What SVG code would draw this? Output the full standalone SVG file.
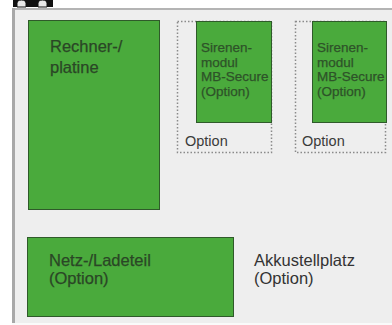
<svg xmlns="http://www.w3.org/2000/svg" width="392" height="325" viewBox="0 0 392 325">
<style>
.box{fill:#4aaa3c;stroke:#2f5a2a;stroke-width:1}
.dot{fill:none;stroke:#8a8a8a;stroke-width:1.5;stroke-dasharray:1.5 2}
.t{font-family:"Liberation Sans",Arial,sans-serif;fill:#2a4626;stroke:#2a4626;stroke-width:0.25}
.big{font-size:16.5px}
.sm{font-size:13.5px;fill:#2e5229;stroke:#2e5229}
.opt{font-family:"Liberation Sans",Arial,sans-serif;font-size:14.5px;fill:#3a3a3a}
.dark{font-family:"Liberation Sans",Arial,sans-serif;font-size:16.5px;fill:#333333}
</style>
<defs>
<clipPath id="c1"><rect x="196" y="21" width="76" height="102"/></clipPath>
<clipPath id="c2"><rect x="312" y="21" width="75" height="102"/></clipPath>
</defs>
<rect width="392" height="325" fill="#ffffff"/>
<g id="topmark">
<rect x="13" y="0" width="40" height="7" fill="#111111"/>
<path d="M17,7 V3.5 a4.5,3.5 0 0 1 9,0 V7 Z" fill="#e8e8e8" stroke="#111" stroke-width="1"/>
<path d="M38,7 V3.5 a4.5,3.5 0 0 1 9,0 V7 Z" fill="#e8e8e8" stroke="#111" stroke-width="1"/>
</g>
<g id="panel">
<rect x="12" y="8" width="382" height="316" fill="#eeeeee"/>
<rect x="12" y="8" width="382" height="2" fill="#b4b4b4"/>
<rect x="12" y="8" width="3" height="316" fill="#a8a8a8"/>
<rect x="12" y="323" width="382" height="2" fill="#fafafa"/>
</g>
<g id="connectors"></g>
<g id="rechner">
<rect class="box" x="28.5" y="20.5" width="131" height="189"/>
<text class="t big" x="50" y="52">Rechner-/</text>
<text class="t big" x="50" y="73">platine</text>
</g>
<g id="option1">
<rect class="dot" x="177.5" y="21.5" width="94" height="131"/>
<text class="opt" x="185" y="146">Option</text>
</g>
<g id="sirene1">
<rect class="box" x="196.5" y="21.5" width="75" height="101"/>
<g clip-path="url(#c1)">
<text class="t sm" x="201" y="52">Sirenen-</text>
<text class="t sm" x="201" y="66.5">modul</text>
<text class="t sm" x="201" y="81">MB-Secure</text>
<text class="t sm" x="201" y="95.5">(Option)</text>
</g>
</g>
<g id="option2">
<rect class="dot" x="295.5" y="21.5" width="90" height="131"/>
<text class="opt" x="302" y="146">Option</text>
</g>
<g id="sirene2">
<rect class="box" x="312.5" y="21.5" width="74" height="101"/>
<g clip-path="url(#c2)">
<text class="t sm" x="317" y="52">Sirenen-</text>
<text class="t sm" x="317" y="66.5">modul</text>
<text class="t sm" x="317" y="81">MB-Secure</text>
<text class="t sm" x="317" y="95.5">(Option)</text>
</g>
</g>
<g id="netz">
<rect class="box" x="27.5" y="237.5" width="206" height="79"/>
<text class="t big" x="49" y="266">Netz-/Ladeteil</text>
<text class="t big" x="49" y="284">(Option)</text>
</g>
<g id="akku">
<text class="dark" x="254" y="266">Akkustellplatz</text>
<text class="dark" x="254" y="284">(Option)</text>
</g>
</svg>
